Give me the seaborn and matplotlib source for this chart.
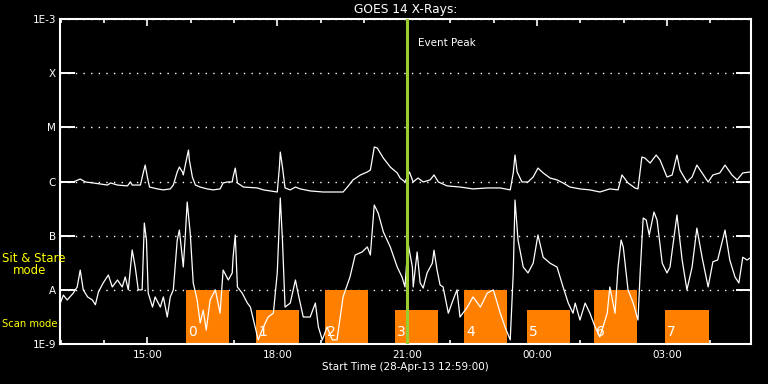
import numpy as np
import pandas as pd
import seaborn as sns
import matplotlib
matplotlib.use("Agg")
import matplotlib.pyplot as plt
from matplotlib.ticker import MultipleLocator, NullLocator

# GOES 14 long channel (1-8 A), hours since 28-Apr-13 00:00, flux in 1e-6 W/m^2
long_time = [12.99, 13.29, 13.45, 13.57, 13.75, 14.08, 14.15, 14.31, 14.54, 14.61, 14.65, 14.84,
             14.91, 14.95, 15.00, 15.05, 15.23, 15.37, 15.53, 15.60, 15.69, 15.74, 15.81, 15.83,
             15.90, 15.95, 15.97, 16.04, 16.11, 16.22, 16.38, 16.52, 16.68, 16.75, 16.85, 16.96,
             16.98, 17.03, 17.08, 17.22, 17.54, 17.68, 18.00, 18.05, 18.07, 18.12, 18.18, 18.30,
             18.42, 18.53, 18.76, 19.06, 19.52, 19.62, 19.75, 19.92, 20.08, 20.15, 20.19, 20.24,
             20.31, 20.45, 20.61, 20.77, 20.84, 20.95, 21.05, 21.14, 21.25, 21.37, 21.53, 21.62,
             21.72, 21.92, 22.22, 22.52, 22.85, 23.15, 23.38, 23.45, 23.49, 23.54, 23.65, 23.79,
             23.91, 24.02, 24.14, 24.30, 24.46, 24.60, 24.76, 24.99, 25.22, 25.45, 25.68, 25.87,
             25.96, 26.10, 26.26, 26.33, 26.42, 26.49, 26.61, 26.75, 26.84, 27.00, 27.12, 27.23,
             27.30, 27.46, 27.58, 27.69, 27.81, 27.95, 28.06, 28.22, 28.34, 28.50, 28.62, 28.75,
             28.92]
long_flux = [1.00, 0.98, 1.11, 0.98, 0.94, 0.86, 0.94, 0.86, 0.83, 0.98, 0.86, 0.86,
             1.50, 2.01, 1.21, 0.79, 0.73, 0.70, 0.73, 0.86, 1.50, 1.85, 1.50, 1.32,
             2.49, 3.81, 2.49, 1.21, 0.86, 0.79, 0.73, 0.70, 0.73, 0.94, 0.98, 0.98,
             1.21, 1.77, 0.94, 0.79, 0.76, 0.70, 0.64, 1.85, 3.50, 1.85, 0.76, 0.70,
             0.79, 0.73, 0.67, 0.64, 0.64, 0.79, 1.07, 1.32, 1.50, 1.63, 2.49, 4.33,
             4.15, 2.71, 1.85, 1.44, 1.15, 0.98, 1.50, 0.98, 1.16, 0.98, 1.07, 1.32,
             0.98, 0.83, 0.79, 0.73, 0.76, 0.76, 0.70, 1.44, 3.08, 1.50, 0.98, 0.98,
             1.21, 1.77, 1.44, 1.16, 1.07, 0.94, 0.79, 0.73, 0.70, 0.64, 0.73, 0.70,
             1.32, 0.94, 0.76, 0.73, 2.83, 2.71, 2.19, 3.08, 2.49, 1.21, 1.32, 3.08,
             1.63, 0.98, 1.21, 2.01, 1.44, 0.98, 1.32, 1.44, 2.01, 1.32, 1.07, 1.44,
             1.50]

# short channel (0.5-4 A), flux in 1e-8 W/m^2
short_time = [12.99, 13.06, 13.15, 13.29, 13.38, 13.45, 13.52, 13.62, 13.73, 13.80, 13.87, 13.98,
              14.10, 14.19, 14.31, 14.42, 14.49, 14.56, 14.65, 14.72, 14.79, 14.88, 14.93, 14.98,
              15.02, 15.12, 15.18, 15.30, 15.37, 15.46, 15.53, 15.60, 15.69, 15.74, 15.83, 15.88,
              15.92, 15.99, 16.06, 16.15, 16.22, 16.29, 16.36, 16.45, 16.57, 16.68, 16.75, 16.87,
              16.96, 16.98, 17.03, 17.08, 17.19, 17.31, 17.38, 17.49, 17.56, 17.68, 17.79, 17.91,
              18.00, 18.07, 18.12, 18.18, 18.30, 18.42, 18.48, 18.60, 18.76, 18.88, 18.95, 19.04,
              19.15, 19.27, 19.38, 19.52, 19.68, 19.80, 19.96, 20.08, 20.15, 20.24, 20.33, 20.45,
              20.61, 20.77, 20.88, 20.95, 21.02, 21.12, 21.14, 21.23, 21.30, 21.37, 21.46, 21.58,
              21.62, 21.69, 21.76, 21.83, 21.95, 22.06, 22.15, 22.22, 22.39, 22.52, 22.69, 22.85,
              22.99, 23.15, 23.26, 23.38, 23.45, 23.49, 23.56, 23.68, 23.79, 23.91, 24.02, 24.14,
              24.30, 24.46, 24.60, 24.72, 24.83, 24.88, 24.99, 25.11, 25.22, 25.34, 25.45, 25.62,
              25.68, 25.80, 25.87, 25.94, 25.99, 26.10, 26.22, 26.33, 26.38, 26.45, 26.52, 26.59,
              26.70, 26.77, 26.89, 27.00, 27.07, 27.23, 27.35, 27.46, 27.58, 27.69, 27.81, 27.95,
              28.06, 28.17, 28.34, 28.45, 28.57, 28.66, 28.75, 28.85, 28.92]
short_flux = [0.57, 0.80, 0.65, 0.87, 1.13, 2.32, 1.00, 0.74, 0.65, 0.53, 0.91, 1.34,
              1.88, 1.13, 1.52, 1.13, 1.73, 1.00, 5.44, 2.64, 1.00, 1.00, 17.1, 8.3,
              0.87, 0.48, 0.74, 0.48, 0.74, 0.315, 0.74, 1.00, 8.3, 12.7, 2.64, 11.2,
              41.8, 11.2, 1.34, 0.65, 0.244, 0.42, 0.181, 0.65, 1.00, 0.37, 2.32, 1.52,
              2.05, 4.0, 10.3, 1.13, 0.87, 0.57, 0.48, 0.206, 0.119, 0.206, 0.315, 0.37,
              2.05, 49.6, 8.3, 0.48, 0.57, 1.52, 0.87, 0.315, 0.315, 0.57, 0.206, 0.119,
              0.206, 0.119, 0.119, 0.74, 1.73, 4.4, 5.0, 6.2, 4.4, 36.8, 26.2, 11.7,
              6.2, 2.64, 1.73, 1.13, 7.3, 2.64, 1.13, 5.0, 1.34, 1.08, 2.05, 3.1,
              5.4, 2.32, 1.23, 1.13, 0.37, 0.65, 1.00, 0.315, 0.48, 0.74, 0.48, 0.87,
              1.00, 0.37, 0.206, 0.119, 2.05, 45.5, 8.3, 2.64, 2.05, 3.1, 10.3, 4.0,
              3.1, 2.64, 1.13, 0.57, 0.37, 0.57, 0.277, 0.57, 0.37, 0.206, 0.135, 0.37,
              1.13, 0.37, 2.64, 8.3, 6.2, 1.00, 0.57, 0.277, 2.05, 21.2, 19.5, 10.3,
              27.3, 19.5, 3.1, 2.05, 2.64, 24.1, 3.55, 1.00, 2.64, 13.8, 4.0, 1.13,
              3.3, 3.55, 12.7, 3.55, 1.73, 1.34, 4.0, 3.55, 3.87]

# observation windows (0..7), alternating sit & stare / scan mode
obs_start = [15.90, 17.52, 19.11, 20.72, 22.32, 23.77, 25.32, 26.95]
obs_end = [16.89, 18.51, 20.10, 21.72, 23.31, 24.76, 26.31, 27.97]
obs_level = [1e-8, 4.2e-9, 1e-8, 4.2e-9, 1e-8, 4.2e-9, 1e-8, 4.2e-9]

event_peak = 21.0
y_levels = [1e-9, 1e-8, 1e-7, 1e-6, 1e-5, 1e-4, 1e-3]
y_labels = ['1E-9', 'A', 'B', 'C', 'M', 'X', '1E-3']
x_major = [15, 18, 21, 24, 27]
x_labels = ['15:00', '18:00', '21:00', '00:00', '03:00']

sns.set_theme(style="ticks", rc={
    "figure.facecolor": "black", "axes.facecolor": "black",
    "axes.edgecolor": "white", "text.color": "white",
    "axes.labelcolor": "white", "xtick.color": "white", "ytick.color": "white",
})
plt.rcParams['font.family'] = ['DejaVu Sans']

df = pd.concat([
    pd.DataFrame({'time': long_time, 'flux': np.array(long_flux) * 1e-6, 'channel': 'long'}),
    pd.DataFrame({'time': short_time, 'flux': np.array(short_flux) * 1e-8, 'channel': 'short'}),
])

fig = plt.figure(figsize=(7.68, 3.84), dpi=100)
ax = fig.add_axes([60 / 768, 40 / 384, 691 / 768, 325 / 384])
ax.set_yscale('log')

starts = np.array(obs_start)
widths = np.array(obs_end) - starts
ax.bar(starts, np.array(obs_level) - 1e-9, width=widths, bottom=1e-9, align='edge',
       color='#ff8000', linewidth=0, zorder=1)

sns.lineplot(data=df, x='time', y='flux', hue='channel', palette=['white', 'white'],
             estimator=None, legend=False, linewidth=0.9, ax=ax, zorder=3)

ax.axvline(event_peak, color='#9acd32', lw=2.2, zorder=4)
ax.text(event_peak + 0.25, 3.6e-4, 'Event Peak', fontsize=7.5, va='center', ha='left')

for i, s in enumerate(obs_start):
    ax.text(s + 0.04, 1.65e-9, str(i), color='white', fontsize=10, va='center', ha='left', zorder=5)

ax.set_xlim(12.983, 28.94)
ax.set_ylim(1e-9, 1e-3)
ax.set_yticks(y_levels, y_labels)
ax.yaxis.set_minor_locator(NullLocator())
ax.set_xticks(x_major, x_labels)
ax.xaxis.set_minor_locator(MultipleLocator(1))

ax.set_axisbelow(True)
ax.yaxis.grid(True, color='white', linestyle=(0, (1, 4.5)), linewidth=1)
ax.xaxis.grid(False)

ax.tick_params(axis='y', which='major', direction='in', length=11, width=1.4,
               left=True, right=True, labelsize=7.5, pad=3)
ax.tick_params(axis='x', which='major', direction='in', length=5, width=1.2,
               top=True, bottom=True, labelsize=7.5, pad=4)
ax.tick_params(axis='x', which='minor', direction='in', length=3, width=1.2,
               top=True, bottom=True)
for sp in ax.spines.values():
    sp.set_color('white')
    sp.set_linewidth(1.5)

ax.set_title('GOES 14 X-Rays:', fontsize=8.8, color='white', pad=4)
ax.set_xlabel('Start Time (28-Apr-13 12:59:00)', fontsize=7.5, labelpad=2)
ax.set_ylabel('')

fig.text(2 / 768, 1 - 259 / 384, 'Sit & Stare', color='#ffff00', fontsize=8.5, va='center', ha='left')
fig.text(13 / 768, 1 - 271 / 384, 'mode', color='#ffff00', fontsize=8.5, va='center', ha='left')
fig.text(2 / 768, 1 - 324 / 384, 'Scan mode', color='#ffff00', fontsize=7.2, va='center', ha='left')

fig.savefig('out.png', dpi=100, facecolor='black')
